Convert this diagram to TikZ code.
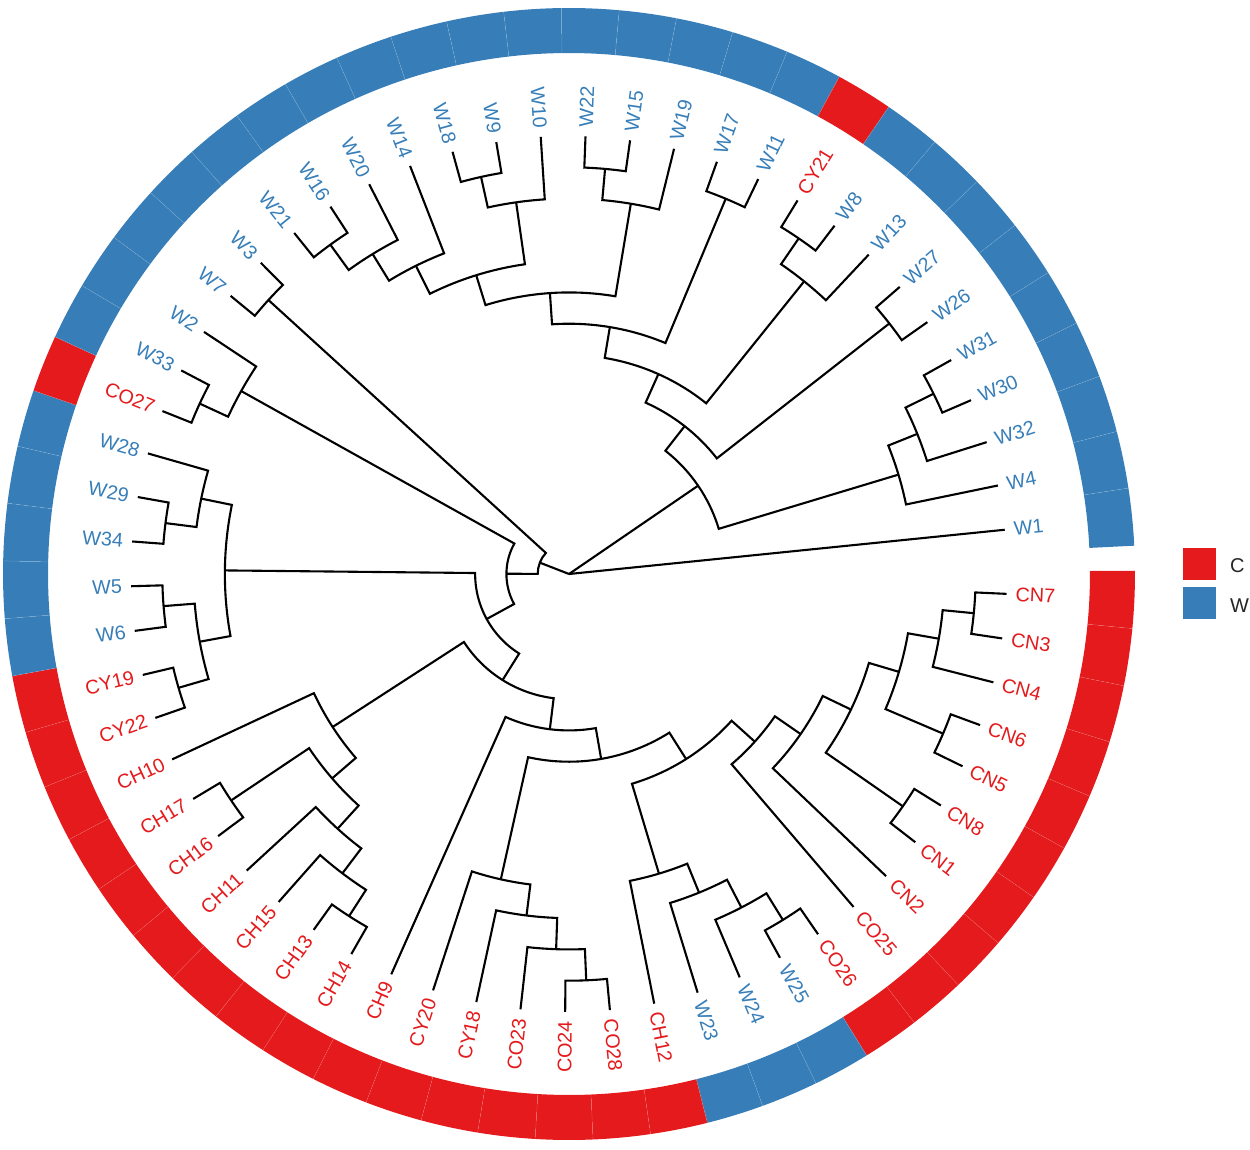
\documentclass[tikz,border=0pt]{standalone}
\usepackage{fontspec}
\setmainfont{Liberation Sans}
\definecolor{cred}{HTML}{E41A1C}
\definecolor{cblue}{HTML}{377EB8}
\tikzset{
  branch/.style={line width=2.1pt, black},
  leaflab/.style={inner sep=0pt, font=\fontsize{19.8}{22}\selectfont},
  sepline/.style={white, line width=0.5pt, opacity=0.2},
  keylab/.style={inner sep=0pt, anchor=west, text=black!85, font=\fontsize{20}{22}\selectfont}
}
% leaf: name, index, colour
\newcommand\setleaf[3]{%
  \pgfmathsetmacro\tmpa{357.4-5.86*#2}%
  \expandafter\xdef\csname ang#1\endcsname{\tmpa}%
  \coordinate (n#1) at (\tmpa:438);
  \pgfmathsetmacro\tlo{\tmpa-2.93}\pgfmathsetmacro\thi{\tmpa+2.93}%
  \fill[#3] (\tlo:521) arc[start angle=\tlo, end angle=\thi, radius=521] -- (\thi:566) arc[start angle=\thi, end angle=\tlo, radius=566] -- cycle;
  \pgfmathtruncatemacro\isleft{(\tmpa>90 && \tmpa<270) ? 1 : 0}%
  \ifnum\isleft=1
    \pgfmathsetmacro\trot{\tmpa-180}%
    \node[leaflab, text=#3, anchor=east, rotate=\trot] (l#1) at (\tmpa:447) {#1};
  \else
    \node[leaflab, text=#3, anchor=west, rotate=\tmpa] (l#1) at (\tmpa:447) {#1};
  \fi
}
% join: name, child A, child B, height level
\newcommand\tjoin[4]{%
  \pgfmathsetmacro\tmpr{438-31.2857*#4}%
  \edef\aA{\csname ang#2\endcsname}\edef\aB{\csname ang#3\endcsname}%
  \pgfmathsetmacro\tmpa{(\aA+\aB)/2}%
  \expandafter\xdef\csname ang#1\endcsname{\tmpa}%
  \coordinate (n#1) at (\tmpa:\tmpr);
  \draw[branch] (n#2) -- (\aA:\tmpr) arc[start angle=\aA, end angle=\aB, radius=\tmpr] -- (n#3);
}
\begin{document}
\begin{tikzpicture}[x=1pt,y=1pt]
\useasboundingbox (-569,-575) rectangle (681,574);
% leaves and ring
\setleaf{CN7}{0}{cred}
\setleaf{CN3}{1}{cred}
\setleaf{CN4}{2}{cred}
\setleaf{CN6}{3}{cred}
\setleaf{CN5}{4}{cred}
\setleaf{CN8}{5}{cred}
\setleaf{CN1}{6}{cred}
\setleaf{CN2}{7}{cred}
\setleaf{CO25}{8}{cred}
\setleaf{CO26}{9}{cred}
\setleaf{W25}{10}{cblue}
\setleaf{W24}{11}{cblue}
\setleaf{W23}{12}{cblue}
\setleaf{CH12}{13}{cred}
\setleaf{CO28}{14}{cred}
\setleaf{CO24}{15}{cred}
\setleaf{CO23}{16}{cred}
\setleaf{CY18}{17}{cred}
\setleaf{CY20}{18}{cred}
\setleaf{CH9}{19}{cred}
\setleaf{CH14}{20}{cred}
\setleaf{CH13}{21}{cred}
\setleaf{CH15}{22}{cred}
\setleaf{CH11}{23}{cred}
\setleaf{CH16}{24}{cred}
\setleaf{CH17}{25}{cred}
\setleaf{CH10}{26}{cred}
\setleaf{CY22}{27}{cred}
\setleaf{CY19}{28}{cred}
\setleaf{W6}{29}{cblue}
\setleaf{W5}{30}{cblue}
\setleaf{W34}{31}{cblue}
\setleaf{W29}{32}{cblue}
\setleaf{W28}{33}{cblue}
\setleaf{CO27}{34}{cred}
\setleaf{W33}{35}{cblue}
\setleaf{W2}{36}{cblue}
\setleaf{W7}{37}{cblue}
\setleaf{W3}{38}{cblue}
\setleaf{W21}{39}{cblue}
\setleaf{W16}{40}{cblue}
\setleaf{W20}{41}{cblue}
\setleaf{W14}{42}{cblue}
\setleaf{W18}{43}{cblue}
\setleaf{W9}{44}{cblue}
\setleaf{W10}{45}{cblue}
\setleaf{W22}{46}{cblue}
\setleaf{W15}{47}{cblue}
\setleaf{W19}{48}{cblue}
\setleaf{W17}{49}{cblue}
\setleaf{W11}{50}{cblue}
\setleaf{CY21}{51}{cred}
\setleaf{W8}{52}{cblue}
\setleaf{W13}{53}{cblue}
\setleaf{W27}{54}{cblue}
\setleaf{W26}{55}{cblue}
\setleaf{W31}{56}{cblue}
\setleaf{W30}{57}{cblue}
\setleaf{W32}{58}{cblue}
\setleaf{W4}{59}{cblue}
\setleaf{W1}{60}{cblue}
% faint separators between ring tiles
\foreach \k in {1,...,60}{
  \pgfmathsetmacro\tb{360.33-5.86*\k}
  \draw[sepline] (\tb:521) -- (\tb:566);
}
% CN group
\tjoin{j1}{CN7}{CN3}{1}
\tjoin{j2}{j1}{CN4}{2}
\tjoin{j3}{CN6}{CN5}{1}
\tjoin{j4}{j2}{j3}{3}
\tjoin{j5}{CN8}{CN1}{1}
\tjoin{j6}{j4}{j5}{4}
\tjoin{j7}{j6}{CN2}{5}
\tjoin{j8}{j7}{CO25}{6}
% lower right
\tjoin{k1}{W25}{CO26}{1}
\tjoin{k2}{W24}{k1}{2}
\tjoin{k3}{W23}{k2}{3}
\tjoin{k4}{CH12}{k3}{4}
\tjoin{V}{k4}{j8}{7}
\tjoin{m1}{CO24}{CO28}{1}
\tjoin{m2}{CO23}{m1}{2}
\tjoin{m3}{CY18}{m2}{3}
\tjoin{R}{CY20}{m3}{4}
\tjoin{Q}{R}{V}{8}
\tjoin{P}{CH9}{Q}{9}
% CH group
\tjoin{c1}{CH13}{CH14}{1}
\tjoin{c2}{CH15}{c1}{2}
\tjoin{c3}{CH11}{c2}{3}
\tjoin{c4}{CH17}{CH16}{1}
\tjoin{c5}{c4}{c3}{4}
\tjoin{c6}{CH10}{c5}{5}
\tjoin{G}{c6}{P}{10}
% W28 group
\tjoin{g1}{W29}{W34}{1}
\tjoin{g2}{W28}{g1}{2}
\tjoin{g3}{W5}{W6}{1}
\tjoin{g4}{CY19}{CY22}{1}
\tjoin{g5}{g3}{g4}{2}
\tjoin{g6}{g2}{g5}{3}
\tjoin{N}{g6}{G}{11}
\tjoin{h1}{W33}{CO27}{1}
\tjoin{h2}{h1}{W2}{2}
\tjoin{M}{h2}{N}{12}
\tjoin{w73}{W7}{W3}{1}
\tjoin{L}{w73}{M}{13}
% upper group
\tjoin{u1}{W21}{W16}{1}
\tjoin{u2}{u1}{W20}{2}
\tjoin{u3}{u2}{W14}{3}
\tjoin{u4}{W18}{W9}{1}
\tjoin{u5}{u4}{W10}{2}
\tjoin{u6}{u3}{u5}{4}
\tjoin{u7}{W22}{W15}{1}
\tjoin{u8}{u7}{W19}{2}
\tjoin{u9}{u6}{u8}{5}
\tjoin{u10}{W17}{W11}{1}
\tjoin{u11}{u9}{u10}{6}
\tjoin{u12}{CY21}{W8}{1}
\tjoin{u13}{u12}{W13}{2}
\tjoin{u14}{u11}{u13}{7}
\tjoin{u15}{W27}{W26}{1}
\tjoin{u16}{u14}{u15}{8}
\tjoin{r1}{W31}{W30}{1}
\tjoin{r2}{r1}{W32}{2}
\tjoin{r3}{r2}{W4}{3}
\tjoin{U}{u16}{r3}{9}
% root (trifurcation at the centre)
\coordinate (root) at (0,0);
\draw[branch] (root) -- (nL);
\draw[branch] (root) -- (nU);
\draw[branch] (root) -- (nW1);
% legend
\fill[cred] (614,26) rectangle (647,-6);
\coordinate (keyC) at (630.5,10);
\fill[cblue] (614,-13) rectangle (647,-45);
\coordinate (keyW) at (630.5,-29);
\node[keylab] (labC) at (661,8.5) {C};
\node[keylab] (labW) at (661,-31.5) {W};
\end{tikzpicture}
\end{document}
